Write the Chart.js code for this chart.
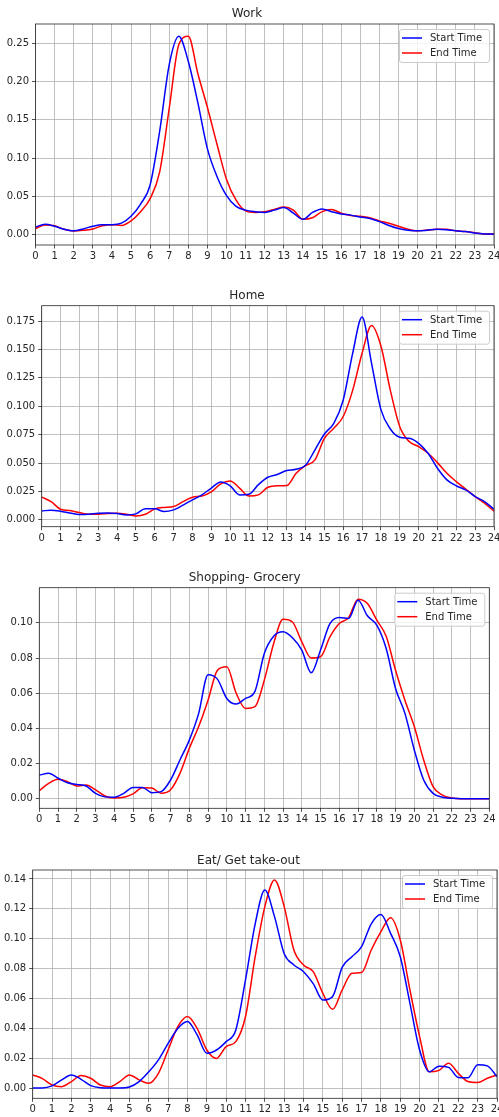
<!DOCTYPE html>
<html>
<head>
<meta charset="utf-8">
<script src="https://cdn.jsdelivr.net/npm/chart.js@4.4.1/dist/chart.umd.min.js"></script>
<style>
  html, body { margin: 0; padding: 0; background: #fff; }
  #wrap { position: relative; width: 499px; height: 1117px; overflow: hidden; }
  #wrap canvas { position: absolute; left: 0; }
</style>
</head>
<body>
<div id="wrap"></div>
<script>
// hour of day, half-hour samples of the density curves
const HOURS = [0, 0.5, 1, 1.5, 2, 2.5, 3, 3.5, 4, 4.5, 5, 5.5, 6, 6.5, 7, 7.5, 8, 8.5, 9, 9.5,
  10, 10.5, 11, 11.5, 12, 12.5, 13, 13.5, 14, 14.5, 15, 15.5, 16, 16.5, 17, 17.5, 18, 18.5, 19, 19.5,
  20, 20.5, 21, 21.5, 22, 22.5, 23, 23.5, 24];
const X_TICKS = [0, 1, 2, 3, 4, 5, 6, 7, 8, 9, 10, 11, 12, 13, 14, 15, 16, 17, 18, 19, 20, 21, 22, 23, 24];
const SERIES_NAMES = ["Start Time", "End Time"];

const WORK_START = [0.010, 0.0135, 0.011, 0.007, 0.005, 0.0075, 0.011, 0.013, 0.013, 0.015,
  0.024, 0.040, 0.065, 0.135, 0.222, 0.259, 0.226, 0.172, 0.112, 0.076,
  0.051, 0.037, 0.032, 0.030, 0.029, 0.032, 0.0355, 0.028, 0.020, 0.029,
  0.0335, 0.030, 0.027, 0.0255, 0.023, 0.021, 0.017, 0.012, 0.008, 0.0058,
  0.005, 0.0058, 0.007, 0.0065, 0.005, 0.004, 0.0022, 0.001, 0.0006];
const WORK_END = [0.008, 0.0125, 0.0115, 0.007, 0.0048, 0.0057, 0.0075, 0.0115, 0.013, 0.012,
  0.018, 0.030, 0.047, 0.082, 0.165, 0.248, 0.259, 0.210, 0.166, 0.118,
  0.072, 0.045, 0.031, 0.029, 0.030, 0.033, 0.036, 0.032, 0.020, 0.022,
  0.030, 0.033, 0.028, 0.025, 0.024, 0.022, 0.018, 0.015, 0.011, 0.007,
  0.005, 0.006, 0.007, 0.007, 0.005, 0.004, 0.0025, 0.001, 0.0008];
const WORK_TICKS = [0, 0.05, 0.10, 0.15, 0.20, 0.25];

const HOME_START = [0.0079, 0.0085, 0.0076, 0.006, 0.0047, 0.005, 0.0059, 0.006, 0.0056, 0.0044,
  0.0053, 0.0097, 0.0097, 0.0073, 0.0088, 0.013, 0.0176, 0.022, 0.028, 0.0334,
  0.030, 0.022, 0.0226, 0.031, 0.0375, 0.040, 0.0434, 0.0446, 0.048, 0.0616,
  0.0756, 0.085, 0.1055, 0.1466, 0.1785, 0.138, 0.097, 0.080, 0.0727, 0.0718,
  0.0674, 0.0586, 0.0454, 0.0352, 0.030, 0.0264, 0.0205, 0.016, 0.0094];
const HOME_END = [0.020, 0.016, 0.0094, 0.0082, 0.0064, 0.005, 0.005, 0.0056, 0.0059, 0.005,
  0.0035, 0.005, 0.0097, 0.011, 0.0117, 0.016, 0.020, 0.021, 0.0246, 0.0317,
  0.0343, 0.028, 0.021, 0.022, 0.0287, 0.030, 0.0302, 0.041, 0.0478, 0.0528,
  0.0718, 0.0806, 0.091, 0.114, 0.1466, 0.171, 0.153, 0.114, 0.082, 0.0689,
  0.0645, 0.0586, 0.0504, 0.041, 0.0337, 0.027, 0.0205, 0.0147, 0.0076];
const HOME_TICKS = [0, 0.025, 0.05, 0.075, 0.10, 0.125, 0.15, 0.175];

const SHOP_START = [0.0134, 0.0144, 0.0116, 0.009, 0.0081, 0.0072, 0.003, 0.001, 0.0008, 0.003,
  0.0064, 0.0064, 0.0034, 0.004, 0.0106, 0.022, 0.0333, 0.0485, 0.0705, 0.068,
  0.057, 0.0538, 0.057, 0.061, 0.0826, 0.0924, 0.0949, 0.0915, 0.0845, 0.0716,
  0.0845, 0.0995, 0.103, 0.1025, 0.1129, 0.104, 0.0987, 0.0854, 0.0627, 0.0485,
  0.0277, 0.0106, 0.003, 0.0008, 0.0002, 0, 0, 0, 0];
const SHOP_END = [0.0045, 0.0087, 0.011, 0.0097, 0.0072, 0.0078, 0.005, 0.0015, 0.0004, 0.0008,
  0.0027, 0.0062, 0.006, 0.003, 0.005, 0.0144, 0.0286, 0.041, 0.056, 0.073,
  0.075, 0.060, 0.0513, 0.0523, 0.0674, 0.0883, 0.102, 0.1005, 0.0892, 0.080,
  0.0807, 0.092, 0.0996, 0.103, 0.1135, 0.111, 0.1015, 0.0924, 0.073, 0.056,
  0.041, 0.022, 0.0068, 0.002, 0.0004, 0, 0, 0, 0];
const SHOP_TICKS = [0, 0.02, 0.04, 0.06, 0.08, 0.10];

const EAT_START = [0.0002, 0.0002, 0.0016, 0.0056, 0.0089, 0.006, 0.0018, 0.0004, 0.0002, 0.0002,
  0.0009, 0.0045, 0.011, 0.019, 0.030, 0.040, 0.0446, 0.0357, 0.0234, 0.0256,
  0.0312, 0.039, 0.0725, 0.110, 0.1326, 0.1148, 0.090, 0.0825, 0.078, 0.070,
  0.059, 0.0613, 0.081, 0.088, 0.0947, 0.110, 0.1162, 0.1036, 0.088, 0.0568,
  0.0256, 0.011, 0.0148, 0.014, 0.0072, 0.007, 0.0158, 0.015, 0.0078];
const EAT_END = [0.0089, 0.0065, 0.0022, 0.0011, 0.0045, 0.0085, 0.0067, 0.0022, 0.0011, 0.0045,
  0.0089, 0.0056, 0.0033, 0.010, 0.0256, 0.0412, 0.048, 0.040, 0.0256, 0.020,
  0.0279, 0.0312, 0.048, 0.088, 0.1215, 0.1393, 0.1215, 0.0925, 0.0825, 0.078,
  0.0635, 0.0528, 0.0658, 0.0769, 0.0774, 0.0925, 0.1048, 0.114, 0.0992, 0.0658,
  0.0346, 0.011, 0.012, 0.0167, 0.010, 0.0045, 0.0038, 0.0067, 0.0089];
const EAT_TICKS = [0, 0.02, 0.04, 0.06, 0.08, 0.10, 0.12, 0.14];

// layout of each subplot in page pixels
const PANELS = [
  { title: "Work", start: WORK_START, end: WORK_END, yTicks: WORK_TICKS, digits: 2,
    yMin: -0.0135, yMax: 0.275, top: 0, height: 270, left: 35.5, right: 494, areaTop: 24, areaBottom: 245, titleY: 14 },
  { title: "Home", start: HOME_START, end: HOME_END, yTicks: HOME_TICKS, digits: 3,
    yMin: -0.006, yMax: 0.1885, top: 280, height: 270, left: 41.7, right: 494, areaTop: 305.7, areaBottom: 526.7, titleY: 295.7 },
  { title: "Shopping- Grocery", start: SHOP_START, end: SHOP_END, yTicks: SHOP_TICKS, digits: 2,
    yMin: -0.0055, yMax: 0.12, top: 560, height: 270, left: 39.3, right: 489.3, areaTop: 587.7, areaBottom: 808.3, titleY: 577.7 },
  { title: "Eat/ Get take-out", start: EAT_START, end: EAT_END, yTicks: EAT_TICKS, digits: 2,
    yMin: -0.0067, yMax: 0.146, top: 845, height: 272, left: 32.7, right: 497, areaTop: 870, areaBottom: 1098.3, titleY: 860.7 },
];

const COLORS = ["#0000ff", "#ff0000"];
const TEXT = "#262626";

Chart.defaults.font.family = "'DejaVu Sans', sans-serif";
Chart.defaults.font.size = 10;
Chart.defaults.color = TEXT;

const axesFrame = {
  id: "axesFrame",
  afterDraw(chart) {
    const { ctx, chartArea: a } = chart;
    ctx.save();
    ctx.strokeStyle = "#262626";
    ctx.lineWidth = 0.8;
    ctx.strokeRect(a.left, a.top, a.right - a.left, a.bottom - a.top);
    ctx.restore();
  },
};

// matplotlib style legend box in the upper right corner
const boxLegend = {
  id: "boxLegend",
  afterDraw(chart) {
    const { ctx, chartArea: a } = chart;
    const w = 90, h = 33;
    const x = a.right - 5 - w, y = a.top + 5;
    ctx.save();
    ctx.beginPath();
    ctx.roundRect(x + 0.5, y + 0.5, w, h, 2.5);
    ctx.fillStyle = "rgba(255,255,255,0.8)";
    ctx.fill();
    ctx.strokeStyle = "#cccccc";
    ctx.lineWidth = 1;
    ctx.stroke();
    ctx.font = "10px 'DejaVu Sans', sans-serif";
    ctx.textBaseline = "middle";
    chart.data.datasets.forEach((ds, i) => {
      const ly = y + 9 + i * 15;
      ctx.beginPath();
      ctx.moveTo(x + 3, ly);
      ctx.lineTo(x + 23, ly);
      ctx.strokeStyle = ds.borderColor;
      ctx.lineWidth = 1.5;
      ctx.stroke();
      ctx.fillStyle = TEXT;
      ctx.fillText(ds.label, x + 31, ly + 0.5);
    });
    ctx.restore();
  },
};

const wrap = document.getElementById("wrap");

PANELS.forEach((p) => {
  const canvas = document.createElement("canvas");
  canvas.width = 499;
  canvas.height = p.height;
  canvas.style.top = p.top + "px";
  canvas.style.width = "499px";
  canvas.style.height = p.height + "px";
  wrap.appendChild(canvas);

  const titleBlock = p.areaTop - p.top;
  const titlePadTop = p.titleY - p.top - 7.2;
  const xHeight = p.height - (p.areaBottom - p.top);

  new Chart(canvas.getContext("2d"), {
    type: "line",
    data: {
      datasets: [p.start, p.end].map((vals, i) => ({
        label: SERIES_NAMES[i],
        data: HOURS.map((hr, k) => ({ x: hr, y: vals[k] })),
        borderColor: COLORS[i],
        borderWidth: 1.5,
        pointRadius: 0,
        cubicInterpolationMode: "monotone",
        fill: false,
      })),
    },
    options: {
      responsive: false,
      animation: false,
      devicePixelRatio: 1,
      events: [],
      layout: { padding: { left: 0, right: 499 - p.right, top: 0, bottom: 0 } },
      plugins: {
        legend: { display: false },
        tooltip: { enabled: false },
        title: {
          display: true,
          text: p.title,
          color: TEXT,
          font: { size: 12, weight: "normal" },
          padding: { top: titlePadTop, bottom: titleBlock - 14.4 - titlePadTop },
        },
      },
      scales: {
        x: {
          type: "linear",
          min: 0,
          max: 24,
          afterBuildTicks: (s) => { s.ticks = X_TICKS.map((v) => ({ value: v })); },
          afterFit: (s) => { s.height = xHeight; s.paddingLeft = 0; s.paddingRight = 0; },
          ticks: { autoSkip: false, maxRotation: 0, minRotation: 0, padding: 2, color: TEXT,
            callback: (v) => String(v) },
          grid: { color: "#b0b0b0", lineWidth: 0.8, tickLength: 3.5, tickColor: TEXT, tickWidth: 0.8 },
          border: { display: false },
        },
        y: {
          type: "linear",
          min: p.yMin,
          max: p.yMax,
          afterBuildTicks: (s) => { s.ticks = p.yTicks.map((v) => ({ value: v })); },
          afterFit: (s) => { s.width = p.left; s.paddingTop = 0; s.paddingBottom = 0; },
          ticks: { padding: 3, color: TEXT, callback: (v) => v.toFixed(p.digits) },
          grid: { color: "#b0b0b0", lineWidth: 0.8, tickLength: 3.5, tickColor: TEXT, tickWidth: 0.8 },
          border: { display: false },
        },
      },
    },
    plugins: [axesFrame, boxLegend],
  });
});
</script>
</body>
</html>
